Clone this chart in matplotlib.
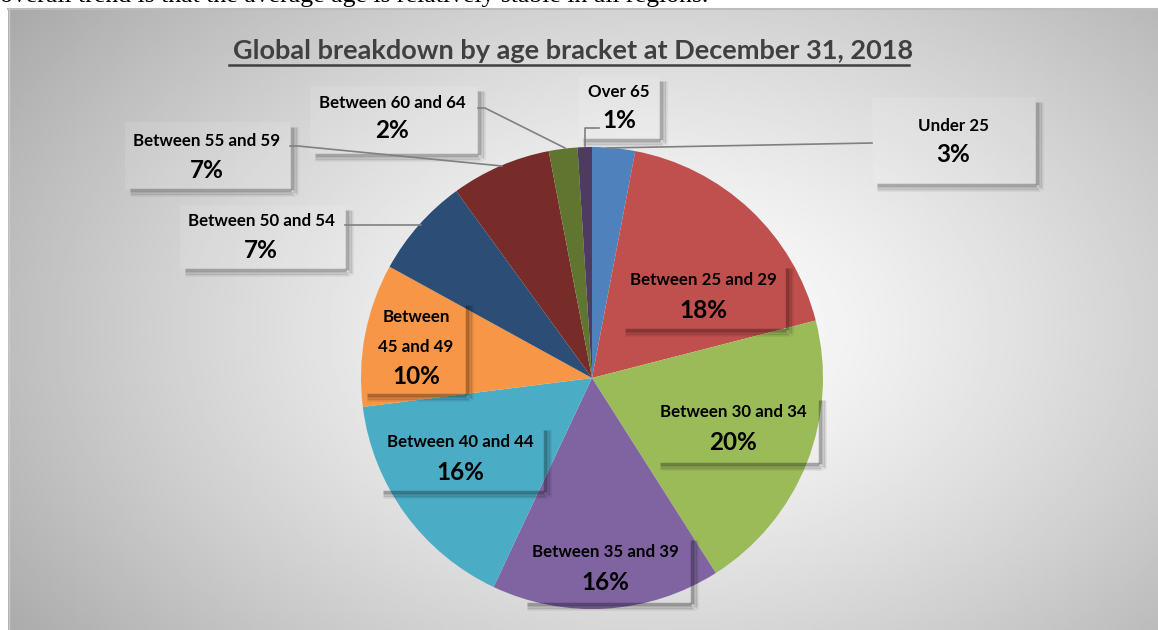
import numpy as np
import matplotlib
matplotlib.use("Agg")
import matplotlib.pyplot as plt
from matplotlib.patches import Rectangle

# data
brackets = ["Under 25", "Between 25 and 29", "Between 30 and 34", "Between 35 and 39",
            "Between 40 and 44", "Between 45 and 49", "Between 50 and 54",
            "Between 55 and 59", "Between 60 and 64", "Over 65"]
shares = [3, 18, 20, 16, 16, 10, 7, 7, 2, 1]
colors = ["#4F81BD", "#C0504D", "#9BBB59", "#8064A2", "#4BACC6", "#F79646",
          "#2C4D75", "#772C2A", "#5F7530", "#4D3B62"]
title = "Global breakdown by age bracket at December 31, 2018"
intro = "overall trend is that the average age is relatively stable in all regions."

W, H = 1158, 630
FONT = "Lato"


def py(y):
    # picture y (top-down) -> axes y (bottom-up)
    return H - y


fig = plt.figure(figsize=(W / 100, H / 100), dpi=100)
ax = fig.add_axes([0, 0, 1, 1])

# chart area with a radial grey gradient
gx, gy = np.meshgrid(np.linspace(8, W, 400), np.linspace(8, H, 220))
r = np.sqrt(((gx - 660) / 700) ** 2 + ((gy - 330) / 470) ** 2)
shade = np.clip(1.0 - 0.28 * r ** 1.3, 0, 1)
ax.imshow(shade, cmap="gray", vmin=0, vmax=1, extent=(8, W, py(H), py(8)),
          origin="upper", interpolation="bilinear", zorder=0)
ax.plot([8, W], [py(8.5), py(8.5)], color="#bdbdbd", lw=1.5, zorder=1)
ax.plot([8.5, 8.5], [py(8), py(H)], color="#c8c8c8", lw=1.0, zorder=1)

# the pie
ax.pie(shares, colors=colors, startangle=90, counterclock=False,
       center=(592, py(378)), radius=231, frame=True,
       wedgeprops=dict(linewidth=0, antialiased=True))


def shadow_box(x0, y0, x1, y1, dark=False):
    c = "black" if dark else "#505050"
    a = 0.30 if dark else 0.40
    for off, al, w in [(2, a, 2.5), (4.5, a * 0.5, 2.5), (6.5, a * 0.2, 2)]:
        ax.plot([x1 + off, x1 + off], [py(y0 + 5), py(y1 + off)], color=c, alpha=al,
                lw=w, solid_capstyle="butt", zorder=4)
        ax.plot([x0 + 5, x1 + off - 1.2], [py(y1 + off), py(y1 + off)], color=c,
                alpha=al, lw=w, solid_capstyle="butt", zorder=4)
    if not dark:
        ax.add_patch(Rectangle((x0, py(y1)), x1 - x0, y1 - y0, facecolor="white",
                               alpha=0.12, edgecolor="#e6e6e6", lw=0.8, zorder=3))


def put(i, x, y, box, dark, lines=None, gap=30):
    name = lines if lines else [brackets[i]]
    for k, t in enumerate(name):
        ax.text(x, py(y + k * gap), t, ha="center", va="center", fontsize=12.2,
                fontweight="bold", family=FONT, color="black", zorder=6)
    ax.text(x, py(y + len(name) * gap), f"{shares[i]}%", ha="center", va="center",
            fontsize=17.5, fontweight="bold", family=FONT, color="black", zorder=6)
    shadow_box(*box, dark=dark)


# outside labels
put(0, 953, 126, (872, 97, 1035, 183), False, gap=28)
put(9, 619, 92, (578, 76, 659, 138), False, gap=29)
put(8, 392, 103, (310, 86, 477, 153), False, gap=28)
put(7, 207, 141, (125, 122, 290, 188), False, gap=29)
put(6, 261, 221, (180, 205, 345, 268), False, gap=30)
# inside labels
put(1, 703, 280, (620, 263, 785, 328), True, gap=31)
put(2, 733, 412, (655, 395, 818, 462), True, gap=31)
put(3, 605, 552, (522, 535, 690, 602), True, gap=31)
put(4, 460, 442, (378, 425, 543, 490), True, gap=31)
put(5, 416, 317, (362, 300, 465, 393), True, lines=["Between", "45 and 49"], gap=30)

# leader lines
lc = dict(color="#808080", lw=1.2, zorder=5)
ax.plot([607, 872], [py(148), py(143)], **lc)
ax.plot([585, 585, 599], [py(146), py(128), py(128)], **lc)
ax.plot([478, 485, 565], [py(108), py(108), py(148)], **lc)
ax.plot([290, 298, 502], [py(146), py(146), py(166)], **lc)
ax.plot([345, 421], [py(225), py(225)], **lc)

# cut-off line of body text above the chart
ax.text(0, py(2), intro, ha="left", va="baseline", fontsize=18.5,
        family="Liberation Serif", color="black", zorder=7)

# title, underlined
t = ax.text(573, py(51), title, ha="center", va="center", fontsize=19.5,
            fontweight="bold", family=FONT, color="#404040", zorder=6)
fig.canvas.draw()
bb = t.get_window_extent(renderer=fig.canvas.get_renderer())
ax.plot([bb.x0, bb.x1], [py(65), py(65)], color="#404040", lw=1.8, zorder=6)

ax.set_xlim(0, W)
ax.set_ylim(0, H)
ax.set_aspect("auto")
ax.axis("off")
fig.savefig("out.png", dpi=100)
